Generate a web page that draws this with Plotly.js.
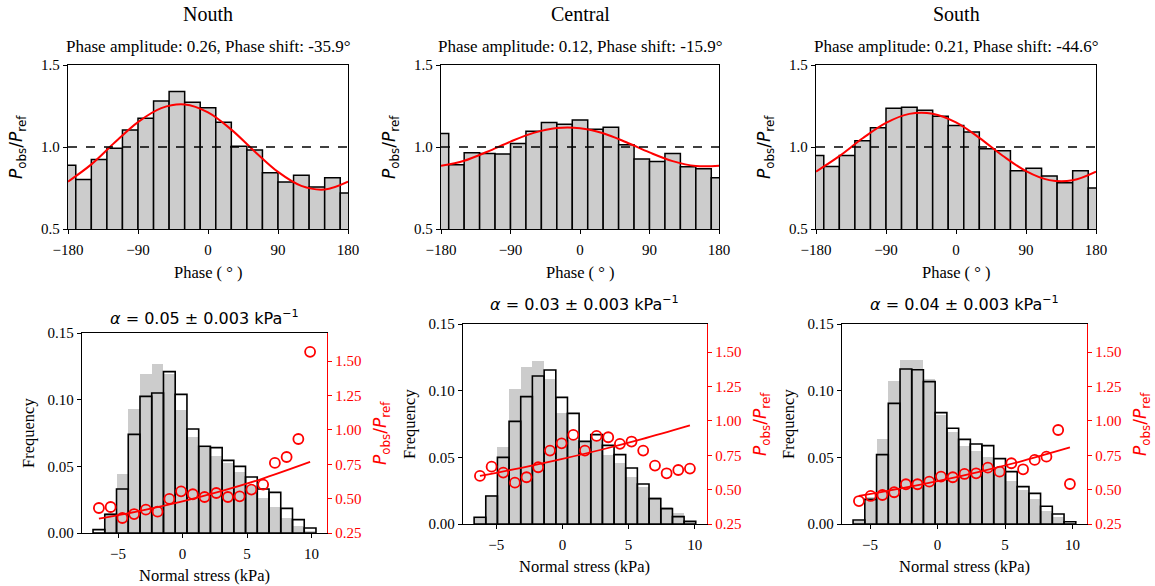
<!DOCTYPE html>
<html><head><meta charset="utf-8">
<script src="https://cdn.plot.ly/plotly-3.0.1.min.js"></script>
<style>body{margin:0;background:#fff}</style>
</head><body><div id="chart" style="width:1155px;height:586px"></div>
<script>
// ---------------- DATA ----------------
const regions = ["Nouth", "Central", "South"];
const phaseAmp = ["0.26", "0.12", "0.21"];
const phaseShift = ["-35.9", "-15.9", "-44.6"];
const alphaText = ["0.05", "0.03", "0.04"];
const alphaErr = "0.003";

// Phase histograms (bin centres, degrees)
const phaseBins = [-180,-160,-140,-120,-100,-80,-60,-40,-20,0,20,40,60,80,100,120,140,160,180];
const phaseNorth   = [0.889,0.802,0.924,0.993,1.104,1.175,1.281,1.338,1.273,1.240,1.151,1.005,0.981,0.843,0.786,0.827,0.756,0.812,0.719];
const phaseCentral = [1.082,0.892,0.965,0.961,0.957,1.022,1.096,1.149,1.139,1.165,1.108,1.120,1.014,0.927,0.912,0.961,0.880,0.867,0.812];
const phaseSouth   = [0.948,0.881,0.948,1.038,1.117,1.236,1.242,1.224,1.188,1.131,1.092,0.989,0.977,0.855,0.871,0.823,0.782,0.855,0.750];

// Fitted sinusoid
const fitPhase = [-180,-150,-120,-90,-60,-30,0,30,60,90,120,150,180];
const fitNorth   = [0.789,0.894,1.027,1.152,1.237,1.259,1.211,1.106,0.973,0.848,0.763,0.741,0.789];
const fitCentral = [0.885,0.916,0.971,1.033,1.086,1.116,1.115,1.084,1.029,0.967,0.914,0.884,0.885];
const fitSouth   = [0.850,0.944,1.053,1.147,1.202,1.203,1.150,1.056,0.947,0.853,0.798,0.797,0.850];

// Normal-stress histograms (bin centres, kPa)
const stressNorth   = [-6.48,-5.57,-4.66,-3.75,-2.84,-1.93,-1.02,-0.11,0.80,1.71,2.62,3.52,4.43,5.34,6.25,7.16,8.07,8.98,9.89];
const stressCentral = [-6.23,-5.35,-4.47,-3.59,-2.71,-1.83,-0.94,-0.06,0.82,1.70,2.58,3.46,4.34,5.22,6.10,6.99,7.87,8.75,9.63];
const stressSouth   = [-5.82,-4.95,-4.08,-3.21,-2.34,-1.48,-0.61,0.26,1.13,2.00,2.86,3.73,4.60,5.47,6.34,7.20,8.07,8.94,9.81];

// grey: reference distribution ; black outline: event distribution
const refFreqNorth   = [0.001,0.015,0.0445,0.093,0.119,0.127,0.119,0.092,0.072,0.064,0.0575,0.0525,0.0455,0.0355,0.026,0.0195,0.011,0.005,0.0013];
const obsFreqNorth   = [0.0025,0.014,0.033,0.074,0.1025,0.105,0.121,0.104,0.078,0.065,0.064,0.0545,0.050,0.042,0.033,0.0305,0.0185,0.010,0.0038];
const refFreqCentral = [0.004,0.022,0.058,0.101,0.1175,0.1225,0.1085,0.0835,0.063,0.062,0.063,0.052,0.0455,0.0355,0.028,0.0205,0.013,0.008,0.0025];
const obsFreqCentral = [0.005,0.021,0.050,0.077,0.0955,0.111,0.1155,0.095,0.083,0.062,0.067,0.059,0.052,0.042,0.030,0.019,0.0115,0.0055,0.002];
const refFreqSouth   = [0.0025,0.0205,0.0635,0.107,0.123,0.123,0.1085,0.082,0.069,0.0585,0.055,0.0505,0.042,0.032,0.0255,0.019,0.010,0.0055,0.001];
const obsFreqSouth   = [0.003,0.0185,0.052,0.0905,0.1162,0.1157,0.1068,0.0835,0.0718,0.0635,0.060,0.0588,0.049,0.0393,0.028,0.023,0.0133,0.0075,0.0017];

// P_obs/P_ref per stress bin
const ratioNorth   = [0.432,0.439,0.359,0.388,0.420,0.405,0.498,0.553,0.532,0.512,0.541,0.512,0.517,0.566,0.602,0.760,0.803,0.934,1.568];
const ratioCentral = [0.600,0.667,0.624,0.551,0.590,0.663,0.784,0.837,0.898,0.784,0.891,0.881,0.833,0.850,0.784,0.675,0.619,0.643,0.653];
const ratioSouth   = [0.417,0.454,0.461,0.481,0.539,0.539,0.558,0.595,0.590,0.614,0.619,0.660,0.631,0.692,0.648,0.716,0.740,0.934,0.541];

// Exponential fit lines
const fitStressNorth   = [-6.48,-3,0,3,6,9.89];
const fitRatioNorth    = [0.354,0.417,0.480,0.554,0.639,0.767];
const fitStressCentral = [-6.23,-3,0,3,6,9.63];
const fitRatioCentral  = [0.600,0.661,0.724,0.792,0.867,0.967];
const fitStressSouth   = [-5.82,-3,0,3,6,9.81];
const fitRatioSouth    = [0.454,0.503,0.562,0.628,0.701,0.807];

// ---------------- LAYOUT ----------------
const W = 1155, H = 586;
const SERIF = "Liberation Serif, Times New Roman, serif";
const SANS = "DejaVu Sans, sans-serif";
const GREY = "#cccccc", RED = "#ff0000";

const topBox = [[68,348,65,229],[441,719,65,229],[816,1096,65,229]];
const botBox = [[82,327,333,533],[463,707,324,524],[842,1087,324,524]];
const stressRange = [[-7.79,11.20],[-7.51,10.92],[-7.075,11.075]];

const topData = [phaseNorth, phaseCentral, phaseSouth];
const topFit = [fitNorth, fitCentral, fitSouth];
const stressX = [stressNorth, stressCentral, stressSouth];
const refF = [refFreqNorth, refFreqCentral, refFreqSouth];
const obsF = [obsFreqNorth, obsFreqCentral, obsFreqSouth];
const ratios = [ratioNorth, ratioCentral, ratioSouth];
const fitSX = [fitStressNorth, fitStressCentral, fitStressSouth];
const fitSY = [fitRatioNorth, fitRatioCentral, fitRatioSouth];

const dx = b => [b[0]/W, b[1]/W];
const dy = b => [1 - b[3]/H, 1 - b[2]/H];

function axBase(extra) {
  return Object.assign({
    showgrid: false, zeroline: false, showline: true, linecolor: "black", linewidth: 1.2,
    ticks: "outside", ticklen: 4, tickwidth: 1, tickcolor: "black",
    tickfont: {family: SERIF, size: 15, color: "black"}, fixedrange: true
  }, extra);
}

const traces = [];
const layout = {
  width: W, height: H, margin: {l:0, r:0, t:0, b:0},
  paper_bgcolor: "white", plot_bgcolor: "white",
  showlegend: false, barmode: "overlay", bargap: 0,
  annotations: [], shapes: []
};

function ann(text, px, py, size, family, color, angle) {
  return {text: text, x: px/W, y: 1 - py/H, xref: "paper", yref: "paper", showarrow: false,
    xanchor: "center", yanchor: "middle", textangle: angle || 0,
    font: {family: family, size: size, color: color || "black"}};
}
const PLABEL = "<i>P</i><sub>obs</sub>/<i>P</i><sub>ref</sub>";

for (let i = 0; i < 3; i++) {
  const n = i + 1;
  const xa = "x" + n, ya = "y" + n;
  const b = topBox[i];
  const w = phaseBins[1] - phaseBins[0];
  traces.push({type: "bar", x: phaseBins, y: topData[i], width: w, xaxis: xa, yaxis: ya,
    marker: {color: GREY, line: {color: "black", width: 1.5}}, base: 0, hoverinfo: "skip"});
  traces.push({type: "scatter", mode: "lines", x: fitPhase, y: topFit[i], xaxis: xa, yaxis: ya,
    line: {color: RED, width: 2, shape: "spline"}, hoverinfo: "skip"});
  layout["xaxis" + (n === 1 ? "" : n)] = axBase({domain: dx(b), anchor: ya, range: [-180, 180],
    tickvals: [-180, -90, 0, 90, 180], mirror: true, ticklabelstandoff: 3});
  layout["yaxis" + (n === 1 ? "" : n)] = axBase({domain: dy(b), anchor: xa, range: [0.5, 1.5],
    tickvals: [0.5, 1.0, 1.5], tickformat: ".1f", mirror: true});
  layout.shapes.push({type: "line", xref: xa + " domain", yref: ya, x0: 0, x1: 1, y0: 1, y1: 1,
    line: {color: "black", width: 1.5, dash: "dash"}, layer: "above"});
  const cx = (b[0] + b[1]) / 2;
  layout.annotations.push(ann(regions[i], cx, 14, 20, SERIF));
  layout.annotations.push(ann("Phase amplitude: " + phaseAmp[i] + ", Phase shift: " + phaseShift[i] + "°", cx, 47, 17, SERIF));
  layout.annotations.push(ann("Phase ( ° )", cx, 272, 16.5, SERIF));
  layout.annotations.push(ann(PLABEL, b[0] - 51, (b[2] + b[3]) / 2, 17, SANS, "black", -90));
}

for (let i = 0; i < 3; i++) {
  const xn = i + 4, yl = i + 4, yr = i + 7;
  const xa = "x" + xn, ya = "y" + yl, yb = "y" + yr;
  const b = botBox[i];
  const sx = stressX[i];
  const w = sx[1] - sx[0];
  traces.push({type: "bar", x: sx, y: refF[i], width: w, xaxis: xa, yaxis: ya,
    marker: {color: GREY, line: {width: 0}}, hoverinfo: "skip"});
  traces.push({type: "bar", x: sx, y: obsF[i], width: w, xaxis: xa, yaxis: ya,
    marker: {color: "rgba(0,0,0,0)", line: {color: "black", width: 1.6}}, hoverinfo: "skip"});
  traces.push({type: "scatter", mode: "lines", x: fitSX[i], y: fitSY[i], xaxis: xa, yaxis: yb,
    line: {color: RED, width: 1.8, shape: "spline"}, hoverinfo: "skip"});
  traces.push({type: "scatter", mode: "markers", x: sx, y: ratios[i], xaxis: xa, yaxis: yb,
    marker: {symbol: "circle-open", size: 10, color: RED, line: {color: RED, width: 1.8}},
    cliponaxis: false, hoverinfo: "skip"});
  layout["xaxis" + xn] = axBase({domain: dx(b), anchor: ya, range: stressRange[i],
    tickvals: [-5, 0, 5, 10], mirror: true, ticklabelstandoff: 3});
  layout["yaxis" + yl] = axBase({domain: dy(b), anchor: xa, range: [0, 0.15],
    tickvals: [0, 0.05, 0.10, 0.15], tickformat: ".2f"});
  layout["yaxis" + yr] = axBase({domain: dy(b), anchor: xa, overlaying: ya, side: "right",
    range: [0.25, 1.705], tickvals: [0.25, 0.5, 0.75, 1.0, 1.25, 1.5], tickformat: ".2f",
    linecolor: RED, tickcolor: RED, tickfont: {family: SERIF, size: 15, color: RED}});
  const cx = (b[0] + b[1]) / 2, cy = (b[2] + b[3]) / 2;
  const titleY = i === 0 ? 317 : 303;
  layout.annotations.push(ann("<i>α</i> = " + alphaText[i] + " ± " + alphaErr + " kPa<sup>−1</sup>", cx, titleY, 16, SANS));
  layout.annotations.push(ann("Normal stress (kPa)", cx, b[3] + 42, 16.5, SERIF));
  layout.annotations.push(ann("Frequency", b[0] - 54, cy, 16.5, SERIF, "black", -90));
  layout.annotations.push(ann(PLABEL, b[1] + 54, cy, 17, SANS, RED, -90));
}

Plotly.newPlot("chart", traces, layout, {staticPlot: true, displayModeBar: false});
</script>
</body></html>
